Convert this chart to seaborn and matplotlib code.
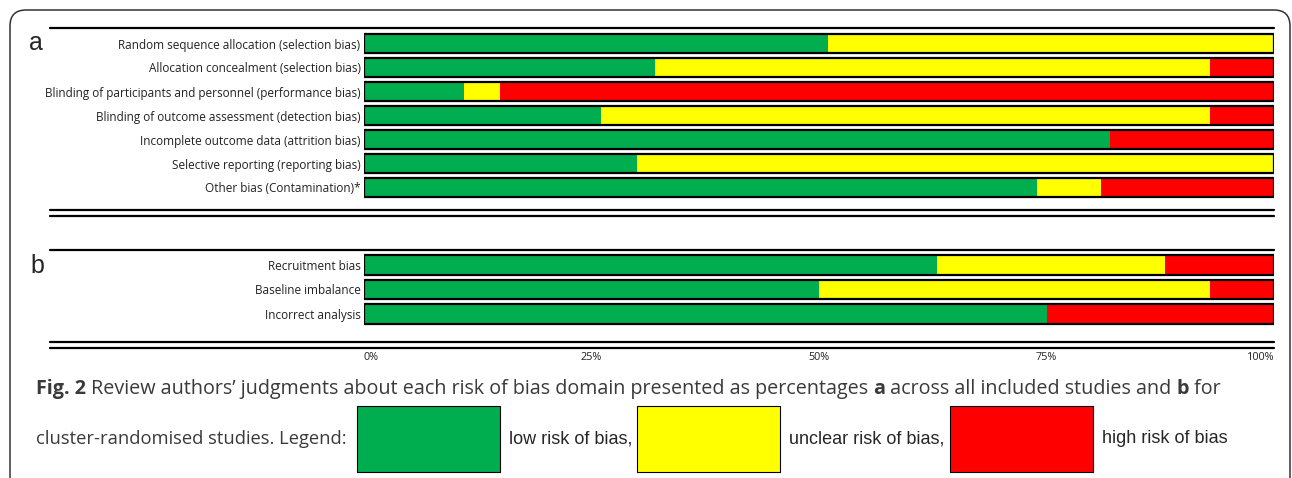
import pandas as pd
import numpy as np
import seaborn as sns
import matplotlib.pyplot as plt
from matplotlib.lines import Line2D
from matplotlib.patches import Patch, FancyBboxPatch

# risk of bias data, percentages (low / unclear / high)

domains_a = ['Random sequence allocation (selection bias)',
             'Allocation concealment (selection bias)',
             'Blinding of participants and personnel (performance bias)',
             'Blinding of outcome assessment (detection bias)',
             'Incomplete outcome data (attrition bias)',
             'Selective reporting (reporting bias)',
             'Other bias (Contamination)*']
low_a = [51, 32, 11, 26, 82, 30, 74]
unclear_a = [49, 61, 4, 67, 0, 70, 7]
high_a = [0, 7, 85, 7, 18, 0, 19]

domains_b = ['Recruitment bias', 'Baseline imbalance', 'Incorrect analysis']
low_b = [63, 50, 75]
unclear_b = [25, 43, 0]
high_b = [12, 7, 25]

tick_vals = [0, 25, 50, 75, 100]
tick_labels = ['0%', '25%', '50%', '75%', '100%']

green = '#00AD4F'
yellow = '#FFFF00'
red = '#FF0000'

sns.set_style('white')
plt.rcParams['font.family'] = ['Open Sans', 'DejaVu Sans']

W, H = 1292, 478
fig = plt.figure(figsize=(W / 100, H / 100), dpi=100)


def fx(px):
    return px / W


def fy(py):
    return 1 - py / H


def stacked(ax, labels, low, unclear, high):
    df = pd.DataFrame({'domain': labels, 'low': low, 'unclear': unclear, 'high': high})
    df['low_unclear'] = df['low'] + df['unclear']
    df['total'] = df['low_unclear'] + df['high']
    w = 0.8
    common = dict(y='domain', width=w, errorbar=None, saturation=1, ax=ax)
    sns.barplot(data=df, x='total', color=red, linewidth=0, **common)
    sns.barplot(data=df, x='low_unclear', color=yellow, linewidth=0, **common)
    sns.barplot(data=df, x='low', color=green, linewidth=0, **common)
    sns.barplot(data=df, x='total', color='black', fill=False, linewidth=1.6, **common)
    ax.set_xlim(0, 100)
    ax.set_xlabel('')
    ax.set_ylabel('')
    sns.despine(ax=ax, left=True, bottom=True)
    ax.tick_params(axis='y', length=0, pad=2.5, labelsize=8.5, labelcolor='#222222')


ax_a = fig.add_axes([fx(364), fy(199.5), 910 / W, 168 / H])
stacked(ax_a, domains_a, low_a, unclear_a, high_a)
ax_a.set_xticks([])

ax_b = fig.add_axes([fx(364), fy(326.5), 910 / W, 74 / H])
stacked(ax_b, domains_b, low_b, unclear_b, high_b)
ax_b.set_xticks(tick_vals)
ax_b.set_xticklabels(tick_labels)
ax_b.tick_params(axis='x', length=0, pad=18, labelsize=7.8, labelcolor='#222222')
xt = ax_b.get_xticklabels()
xt[0].set_ha('left')
xt[-1].set_ha('right')

# panel letters
fig.text(fx(29), fy(50), 'a', fontsize=18, family='Liberation Sans')
fig.text(fx(30), fy(273), 'b', fontsize=18, family='Liberation Sans')

# rule lines
for y in [27.5, 209.5, 215.5, 249.5, 341.5, 347.5]:
    fig.add_artist(Line2D([fx(50), fx(1274)], [fy(y), fy(y)], transform=fig.transFigure,
                          color='black', linewidth=1.6))

# outer rounded frame
fig.add_artist(FancyBboxPatch((0.10, -1.0), 12.80, 5.68, boxstyle='round,pad=0,rounding_size=0.16',
                              transform=fig.dpi_scale_trans, facecolor='none', edgecolor='#333333',
                              linewidth=1.1))

# caption with mixed weights
renderer = fig.canvas.get_renderer()


def runs(x, y, parts, size=14, color='#3a3a3a'):
    for s, weight in parts:
        t = fig.text(x, y, s, fontsize=size, fontweight=weight, color=color, va='baseline')
        x += t.get_window_extent(renderer).width / W
    return x


runs(fx(36), fy(394), [('Fig. 2', 'bold'),
                       (' Review authors\u2019 judgments about each risk of bias domain presented as percentages ', 'normal'),
                       ('a', 'bold'), (' across all included studies and ', 'normal'), ('b', 'bold'), (' for', 'normal')],
     size=14.2)
runs(fx(36), fy(444), [('cluster-randomised studies. Legend:', 'normal')], size=13.2)

handles = [Patch(facecolor=green, edgecolor='black', linewidth=0.8),
           Patch(facecolor=yellow, edgecolor='black', linewidth=0.8),
           Patch(facecolor=red, edgecolor='black', linewidth=0.8)]
fs = 13
fpx = fs * 100 / 72
fig.legend(handles, ['low risk of bias,', 'unclear risk of bias,', 'high risk of bias'],
           loc='upper left', bbox_to_anchor=(fx(357), fy(406)), ncol=3, frameon=False,
           prop={'family': 'Liberation Sans', 'size': fs},
           handlelength=143 / fpx, handleheight=(66 / fpx - 0.245) / 0.65,
           handletextpad=9 / fpx, columnspacing=5 / fpx,
           borderpad=0, borderaxespad=0)

plt.savefig('out.png', dpi=100)
